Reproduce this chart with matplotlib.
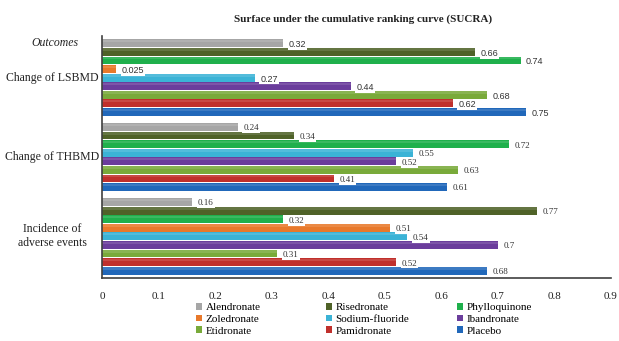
import matplotlib
matplotlib.use("Agg")
import matplotlib.pyplot as plt
import matplotlib.colors as mcolors
import numpy as np
from matplotlib.patches import Patch
from matplotlib.transforms import blended_transform_factory

outcomes = ["Change of LSBMD", "Change of THBMD", "Incidence of\nadverse events"]
drugs = ["Alendronate", "Risedronate", "Phylloquinone", "Zoledronate",
         "Sodium-fluoride", "Ibandronate", "Etidronate", "Pamidronate", "Placebo"]
alendronate = [0.32, 0.24, 0.16]
risedronate = [0.66, 0.34, 0.77]
phylloquinone = [0.74, 0.72, 0.32]
zoledronate = [0.025, None, 0.51]
sodium_fluoride = [0.27, 0.55, 0.54]
ibandronate = [0.44, 0.52, 0.70]
etidronate = [0.68, 0.63, 0.31]
pamidronate = [0.62, 0.41, 0.52]
placebo = [0.75, 0.61, 0.68]
series = [alendronate, risedronate, phylloquinone, zoledronate, sodium_fluoride,
          ibandronate, etidronate, pamidronate, placebo]
colors = ["#a6a6a6", "#4f6228", "#1fb04c", "#e8792b", "#3bb3d6",
          "#6b3d9c", "#79aa3a", "#c0302c", "#2168ba"]
xticks = [0, 0.1, 0.2, 0.3, 0.4, 0.5, 0.6, 0.7, 0.8, 0.9]

SERIF = ["Liberation Serif", "DejaVu Serif"]
SANS = ["Liberation Sans", "DejaVu Sans"]


def lighten(c, f):
    r, g, b = mcolors.to_rgb(c)
    return (r + (1 - r) * f, g + (1 - g) * f, b + (1 - b) * f)


fig = plt.figure(figsize=(6.19, 3.41), dpi=100)
fig.patch.set_facecolor("white")
ax = fig.add_axes([102 / 619, 1 - 278 / 341, (611 - 102) / 619, (278 - 36) / 341])

gap = 0.75
margin = 0.35
bh = 0.92
pos = 0.0
group_centers = []
first_bar_center = None
for gi in range(len(outcomes)):
    start = pos
    for si, s in enumerate(series):
        v = s[gi]
        if v is None:
            continue
        c = pos + 0.5
        if first_bar_center is None:
            first_bar_center = c
        ax.barh(c, v, height=bh, color=colors[si], edgecolor="none")
        # subtle highlight band on the upper part (Excel-like shading)
        ax.barh(c - bh * 0.28, v, height=bh * 0.3, color=lighten(colors[si], 0.12),
                edgecolor="none")
        fam = SANS if gi == 0 else SERIF
        ax.annotate(f"{v:g}", xy=(v, c), xytext=(4, -1), textcoords="offset points",
                    ha="left", va="center", fontsize=6.5, family=fam, color="#333333",
                    bbox=dict(boxstyle="square,pad=0.1", fc="white", ec="none"))
        pos += 1
    group_centers.append((start + pos) / 2)
    pos += gap
end = pos - gap

ax.set_ylim(end + margin, -margin)
ax.set_xlim(0, 0.9)
ax.set_xticks(xticks)
ax.set_xticklabels([f"{t:g}" for t in xticks], family=SERIF, fontsize=8, color="#222222")
ax.tick_params(axis="x", length=0, pad=10)
ax.set_yticks([])
for sp in ["top", "right"]:
    ax.spines[sp].set_visible(False)
for sp in ["left", "bottom"]:
    ax.spines[sp].set_color("#404040")
    ax.spines[sp].set_linewidth(1.2)

trans = blended_transform_factory(fig.transFigure, ax.transData)
for lab, yc in zip(outcomes, group_centers):
    fig.text(52 / 619, yc, lab, transform=trans, ha="center", va="center",
             multialignment="center", family=SERIF, fontsize=8.5, color="#222222")
fig.text(55 / 619, first_bar_center, "Outcomes", transform=trans, ha="center", va="center",
         family=SERIF, fontsize=8.5, style="italic", color="#222222")

fig.text(363 / 619, 1 - 19 / 341, "Surface under the cumulative ranking curve (SUCRA)",
         ha="center", va="center", family=SERIF, fontsize=8, weight="bold", color="#222222")

col_x = [196, 326, 457]
for ci in range(3):
    handles = []
    for ri in range(3):
        idx = ri * 3 + ci
        handles.append(Patch(facecolor=colors[idx], edgecolor="none", label=drugs[idx]))
    fig.legend(handles=handles, loc="upper left",
               bbox_to_anchor=(col_x[ci] / 619, 1 - 303 / 341),
               frameon=False, handlelength=0.55, handleheight=0.55, handletextpad=0.3,
               labelspacing=0.22, borderpad=0, borderaxespad=0,
               prop={"family": SERIF, "size": 8})

fig.savefig("out.png", dpi=100)
